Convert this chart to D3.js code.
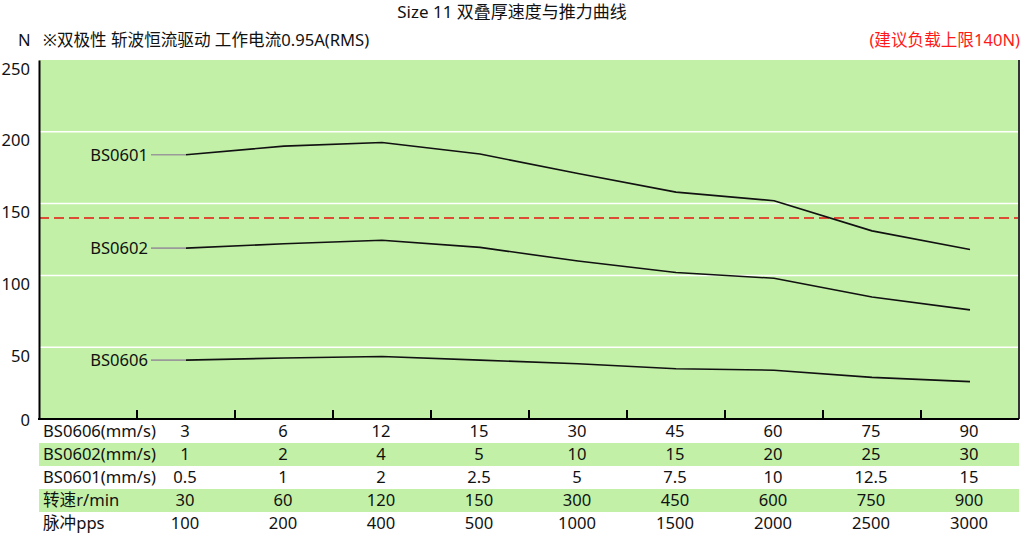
<!DOCTYPE html>
<html><head><meta charset="utf-8">
<script src="https://cdn.jsdelivr.net/npm/d3@7"></script>
<style>
html,body{margin:0;padding:0;background:#fff;}
svg{display:block;font-family:"Noto Sans","Noto Sans CJK SC",sans-serif;}
</style></head>
<body>
<svg id="chart" width="1022" height="535"></svg>
<script>
// ---- data ----
const pulses = ["100","200","400","500","1000","1500","2000","2500","3000"];
const rpm = ["30","60","120","150","300","450","600","750","900"];
const speed0601 = ["0.5","1","2","2.5","5","7.5","10","12.5","15"];
const speed0602 = ["1","2","4","5","10","15","20","25","30"];
const speed0606 = ["3","6","12","15","30","45","60","75","90"];
const force0601 = [184, 190, 192.5, 184.5, 171, 158, 152, 131, 118];
const force0602 = [119, 122, 124.5, 119.5, 110, 102, 98, 85, 76];
const force0606 = [41, 42.5, 43.5, 41, 38.5, 35, 34, 29, 26];
const seriesNames = ["BS0601","BS0602","BS0606"];
const yTicks = [0, 50, 100, 150, 200, 250];
const limitValue = 140;
const rowLabels = ["BS0606(mm/s)","BS0602(mm/s)","BS0601(mm/s)","转速r/min","脉冲pps"];
const title = "Size 11 双叠厚速度与推力曲线";
const subtitle = "※双极性 斩波恒流驱动 工作电流0.95A(RMS)";
const limitText = "(建议负载上限140N)";
const yUnit = "N";

// ---- layout ----
const svg = d3.select("#chart");
const L = 39, R = 1019, T = 60, B = 419;
const green = "#c2f0a7";
const FS = 16.6;

const cols = ["__label"].concat(pulses);
const x = d3.scaleBand().domain(cols).range([L, R]).paddingInner(0).paddingOuter(0);
const xc = c => x(c) + x.bandwidth() / 2;
const y = d3.scaleLinear().domain([0, 250]).range([B, T]);

// plot background
svg.append("rect").attr("x", L).attr("y", T).attr("width", R - L).attr("height", B - T).attr("fill", green);

// gridlines
svg.append("g").selectAll("line").data(yTicks.filter(v => v > 0 && v < 250)).join("line")
  .attr("x1", L).attr("x2", R).attr("y1", d => y(d)).attr("y2", d => y(d))
  .attr("stroke", "#fff").attr("stroke-width", 1.5);

// limit line
svg.append("line").attr("x1", L).attr("x2", R).attr("y1", y(limitValue)).attr("y2", y(limitValue))
  .attr("stroke", "#e8140f").attr("stroke-width", 1.5).attr("stroke-dasharray", "10,5");

// series
const series = [
  {name: seriesNames[0], values: force0601},
  {name: seriesNames[1], values: force0602},
  {name: seriesNames[2], values: force0606}
];
const line = d3.line().x((d, i) => xc(pulses[i])).y(d => y(d));
series.forEach(s => {
  svg.append("path").attr("d", line(s.values)).attr("fill", "none")
    .attr("stroke", "#111").attr("stroke-width", 1.6).attr("stroke-linejoin", "round");
  const y0 = y(s.values[0]);
  svg.append("line").attr("x1", 151).attr("x2", xc(pulses[0])).attr("y1", y0).attr("y2", y0)
    .attr("stroke", "#9a9a9a").attr("stroke-width", 1.6);
  svg.append("text").attr("x", 148).attr("y", y0).attr("dy", "0.35em")
    .attr("text-anchor", "end").attr("font-size", FS).attr("fill", "#111").text(s.name);
});

// y axis
const yAxis = d3.axisLeft(y).tickValues(yTicks).tickSize(0).tickPadding(9);
const gy = svg.append("g").attr("transform", `translate(${L},0)`).call(yAxis);
gy.select(".domain").attr("stroke", "#000").attr("stroke-width", 2);
gy.selectAll("text").attr("font-size", FS).attr("fill", "#111")
  .attr("font-family", "Noto Sans, sans-serif")
  .attr("dy", d => d === 0 ? "0.4em" : "0.85em");

// right border
svg.append("line").attr("x1", R).attr("x2", R).attr("y1", T).attr("y2", B)
  .attr("stroke", "#333").attr("stroke-width", 2);

// x axis line and inward ticks
svg.append("line").attr("x1", L - 1).attr("x2", R).attr("y1", B).attr("y2", B)
  .attr("stroke", "#000").attr("stroke-width", 2);
svg.append("g").selectAll("line").data(pulses).join("line")
  .attr("x1", d => x(d)).attr("x2", d => x(d)).attr("y1", B).attr("y2", B - 9)
  .attr("stroke", "#000").attr("stroke-width", 2);

// table
const rowsData = [speed0606, speed0602, speed0601, rpm, pulses];
const rowY = d3.scaleBand().domain(rowLabels).range([420, 535]);
rowLabels.forEach((lab, i) => {
  const ry = rowY(lab);
  if (i % 2 === 1) {
    svg.append("rect").attr("x", L).attr("y", ry).attr("width", R - L).attr("height", rowY.bandwidth()).attr("fill", green);
  }
  const cy = ry + rowY.bandwidth() / 2;
  svg.append("text").attr("x", 43).attr("y", cy).attr("dy", "0.35em")
    .attr("font-size", FS).attr("fill", "#111").text(lab);
  svg.append("g").selectAll("text").data(rowsData[i]).join("text")
    .attr("x", (d, j) => xc(pulses[j]) - 1).attr("y", cy).attr("dy", "0.35em")
    .attr("text-anchor", "middle").attr("font-size", FS).attr("fill", "#111").text(d => d);
});

// titles
svg.append("text").attr("x", 512).attr("y", 12).attr("dy", "0.35em").attr("text-anchor", "middle")
  .attr("font-size", 17).attr("fill", "#111").text(title);
svg.append("text").attr("x", 18).attr("y", 40).attr("dy", "0.35em")
  .attr("font-size", FS).attr("fill", "#111").text(yUnit);
svg.append("text").attr("x", 43).attr("y", 40).attr("dy", "0.35em")
  .attr("font-size", FS).attr("fill", "#111").text(subtitle);
svg.append("text").attr("x", 1020).attr("y", 40).attr("dy", "0.35em").attr("text-anchor", "end")
  .attr("font-size", FS).attr("fill", "#ff1a1a").text(limitText);
</script>
</body></html>
